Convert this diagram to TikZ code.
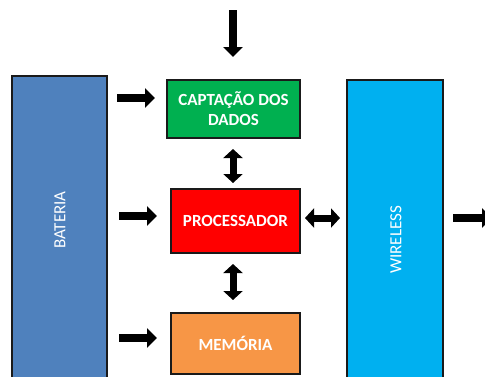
\documentclass[tikz,border=0pt]{standalone}
\usepackage{fontspec}
\setmainfont{Carlito}
\usetikzlibrary{arrows.meta}
\definecolor{batc}{HTML}{4F81BD}
\definecolor{capc}{HTML}{00B050}
\definecolor{procc}{HTML}{FF0000}
\definecolor{memc}{HTML}{F79646}
\definecolor{wirc}{HTML}{00B0F0}
\definecolor{edgec}{HTML}{1A1A1A}
\tikzset{
  blk/.style={draw=edgec, line width=1.1pt, outer sep=0pt, inner sep=0pt, text=white, align=center,
    font=\fontsize{17}{20}\selectfont\bfseries},
  sidetxt/.style={text=white, rotate=90, font=\fontsize{17}{20}\selectfont},
  arr/.style={line width=8pt, -{Triangle[width=19pt,length=10pt]}},
  darr/.style={line width=7pt, {Triangle[width=19pt,length=9pt]}-{Triangle[width=19pt,length=9pt]}}
}
\begin{document}
\begin{tikzpicture}[x=1pt,y=-1pt]
\useasboundingbox (0,0) rectangle (485,376);
\clip (0,0) rectangle (485,376);
% blocks
\node[blk, fill=batc, minimum width=95pt, minimum height=310pt] (bat) at (59.5,231) {};
\node[sidetxt] (battxt) at (60,220) {BATERIA};
\node[blk, fill=capc, minimum width=133pt, minimum height=58pt] (cap) at (233.5,109) {CAPTAÇÃO DOS\\DADOS};
\node[blk, fill=procc, minimum width=129pt, minimum height=64pt] (proc) at (235.5,221) {PROCESSADOR};
\node[blk, fill=memc, minimum width=129pt, minimum height=61pt] (mem) at (235.5,343.5) {MEMÓRIA};
\node[blk, fill=wirc, minimum width=96pt, minimum height=306pt] (wir) at (395,233) {};
\node[sidetxt] (wirtxt) at (396,240) {WIRELESS};
% free ends
\coordinate (topin) at (233,10);
\coordinate (outr) at (492,218);
% arrows
\draw[arr, shorten >=23pt] (topin) -- (topin |- cap.north);
\draw[arr, shorten <=10pt, shorten >=12pt] (bat.east |- 0,98) -- (cap.west |- 0,98);
\draw[arr, shorten <=12pt, shorten >=14pt] (bat.east |- 0,216) -- (proc.west |- 0,216);
\draw[arr, shorten <=12pt, shorten >=14pt] (bat.east |- 0,338) -- (mem.west |- 0,338);
\draw[darr, shorten <=11pt, shorten >=6pt] (cap.south -| 233,0) -- (proc.north -| 233,0);
\draw[darr, shorten <=11pt, shorten >=13pt] (proc.south -| 233,0) -- (mem.north -| 233,0);
\draw[darr, shorten <=5pt, shorten >=7pt] (proc.east |- 0,218) -- (wir.west |- 0,218);
\draw[arr, shorten <=10pt] (wir.east |- outr) -- (outr);
\end{tikzpicture}
\end{document}
